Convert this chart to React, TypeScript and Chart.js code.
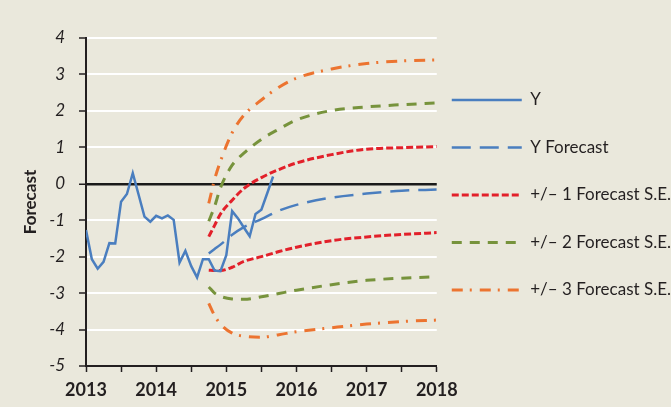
import React, { useEffect, useRef } from 'react';
import { Chart, registerables } from 'chart.js';

Chart.register(...registerables);

// ---- Data ----
const yDates = [
  '2013-01', '2013-02', '2013-03', '2013-04', '2013-05', '2013-06',
  '2013-07', '2013-08', '2013-09', '2013-10', '2013-11', '2013-12',
  '2014-01', '2014-02', '2014-03', '2014-04', '2014-05', '2014-06',
  '2014-07', '2014-08', '2014-09', '2014-10', '2014-11', '2014-12',
  '2015-01', '2015-02', '2015-03', '2015-04', '2015-05', '2015-06',
  '2015-07', '2015-08', '2015-09',
];
const yValues = [
  -1.27, -2.07, -2.33, -2.14, -1.63, -1.64,
  -0.49, -0.28, 0.29, -0.30, -0.90, -1.04,
  -0.88, -0.95, -0.87, -0.99, -2.16, -1.84,
  -2.26, -2.57, -2.07, -2.07, -2.38, -2.40,
  -1.96, -0.75, -0.95, -1.20, -1.44, -0.83,
  -0.71, -0.26, 0.20,
];

const forecastDates = [
  '2014-10', '2014-11', '2014-12', '2015-02', '2015-04', '2015-07',
  '2015-10', '2016-01', '2016-07', '2017-01', '2017-07', '2018-01',
];
const forecastValues = [-1.91, -1.79, -1.67, -1.40, -1.19, -0.97, -0.74, -0.58, -0.38, -0.27, -0.19, -0.16];
const se1Upper = [-1.45, -1.14, -0.83, -0.45, -0.13, 0.17, 0.39, 0.57, 0.80, 0.95, 0.99, 1.02];
const se1Lower = [-2.37, -2.38, -2.38, -2.29, -2.13, -2.00, -1.86, -1.74, -1.56, -1.46, -1.39, -1.34];
const se2Upper = [-1.03, -0.62, -0.11, 0.51, 0.84, 1.22, 1.50, 1.75, 2.01, 2.11, 2.17, 2.22];
const se2Lower = [-2.83, -3.00, -3.09, -3.16, -3.17, -3.10, -3.01, -2.92, -2.77, -2.65, -2.59, -2.55];
const se3Upper = [-0.54, 0.12, 0.62, 1.40, 1.88, 2.30, 2.65, 2.90, 3.15, 3.30, 3.37, 3.40];
const se3Lower = [-3.28, -3.62, -3.85, -4.10, -4.18, -4.21, -4.14, -4.06, -3.95, -3.85, -3.78, -3.74];

const seriesLabels = ['Y', 'Y Forecast', '+/\u2013 1 Forecast S.E.', '+/\u2013 2 Forecast S.E.', '+/\u2013 3 Forecast S.E.'];
const xMin = 2013;
const xMax = 2018;
const yMin = -5;
const yMax = 4;
const yAxisTitle = 'Forecast';

// ---- Styles ----
const BG = '#EAE8DC';
const BLUE = '#4A7EBF';
const RED = '#E2202A';
const GREEN = '#77933C';
const ORANGE = '#EC7430';
const TEXT = '#231F20';
const FONT = 'Lato';

const toYear = (s: string) => {
  const [y, m] = s.split('-').map(Number);
  return y + (m - 1) / 12;
};
const pts = (dates: string[], vals: number[]) => dates.map((d, i) => ({ x: toYear(d), y: vals[i] }));

export default function App() {
  const ref = useRef<HTMLCanvasElement | null>(null);

  useEffect(() => {
    if (!ref.current) return;
    const band = (label: string, data: number[], color: string, dash: number[], inLegend: boolean) => ({
      label,
      data: pts(forecastDates, data),
      borderColor: color,
      backgroundColor: color,
      borderWidth: 3,
      borderDash: dash,
      pointRadius: 0,
      cubicInterpolationMode: 'monotone',
      fill: false,
      showInLegend: inLegend,
    });
    const chart = new Chart(ref.current, {
      type: 'line',
      data: {
        datasets: [
          {
            label: seriesLabels[0],
            data: pts(yDates, yValues),
            borderColor: BLUE,
            backgroundColor: BLUE,
            borderWidth: 2.5,
            borderDash: [],
            pointRadius: 0,
            tension: 0,
            fill: false,
          },
          { ...band(seriesLabels[1], forecastValues, BLUE, [19, 9], true), borderWidth: 2.5 },
          band(seriesLabels[2], se1Upper, RED, [7, 3], true),
          band(seriesLabels[3], se2Upper, GREEN, [10, 8], true),
          band(seriesLabels[4], se3Upper, ORANGE, [11, 7, 2, 8], true),
          band(seriesLabels[2], se1Lower, RED, [7, 3], false),
          band(seriesLabels[3], se2Lower, GREEN, [10, 8], false),
          band(seriesLabels[4], se3Lower, ORANGE, [11, 7, 2, 8], false),
        ] as any,
      },
      options: {
        responsive: false,
        animation: false,
        layout: { padding: { top: 38, bottom: 11, left: 0, right: -10 } },
        plugins: {
          tooltip: { enabled: false },
          legend: {
            position: 'right',
            align: 'start',
            maxWidth: 400,
            title: {
              display: true,
              text: '',
              font: { size: 10, lineHeight: '0px' },
              padding: { top: 38.5, bottom: 0 },
            },
            labels: {
              usePointStyle: true,
              pointStyle: 'line',
              pointStyleWidth: 70,
              padding: 15,
              color: TEXT,
              font: { family: FONT, size: 17, lineHeight: '32.5px' } as any,
              generateLabels: (c: any) =>
                (Chart.defaults.plugins.legend.labels.generateLabels as any)(c).map((it: any) => {
                  const ds = c.data.datasets[it.datasetIndex];
                  return {
                    ...it,
                    text: [it.text],
                    lineDash: ds.borderDash || [],
                    strokeStyle: ds.borderColor,
                    fillStyle: ds.borderColor,
                    lineWidth: ds.borderWidth,
                    lineCap: 'butt',
                  };
                }),
              filter: (item: any, data: any) => data.datasets[item.datasetIndex].showInLegend !== false,
            },
          },
        },
        scales: {
          x: {
            type: 'linear',
            min: xMin,
            max: xMax,
            ticks: {
              stepSize: 0.5,
              autoSkip: false,
              maxRotation: 0,
              padding: 7,
              color: TEXT,
              font: { family: FONT, size: 18, weight: 'bold' },
              callback: (v: any) => (Number.isInteger(v) ? String(v) : ''),
            },
            grid: {
              drawOnChartArea: false,
              drawTicks: true,
              tickLength: 6,
              tickColor: TEXT,
              tickWidth: 1.5,
              color: TEXT,
            },
            border: { display: true, color: TEXT, width: 2 },
            afterFit: (s: any) => {
              s.height = 30;
            },
          },
          y: {
            type: 'linear',
            min: yMin,
            max: yMax,
            ticks: {
              stepSize: 1,
              padding: 14,
              color: TEXT,
              font: { family: FONT, size: 17, style: 'italic' },
            },
            grid: {
              color: (ctx: any) => (ctx.tick && ctx.tick.value === 0 ? '#1a1a1a' : '#FFFFFF'),
              lineWidth: (ctx: any) => (ctx.tick && ctx.tick.value === 0 ? 2.5 : 2),
              drawTicks: true,
              tickLength: 7,
              tickColor: TEXT,
              tickWidth: 1.5,
            },
            border: { display: true, color: TEXT, width: 2 },
            title: {
              display: true,
              text: yAxisTitle,
              color: TEXT,
              font: { family: FONT, size: 17, weight: 'bold' },
              padding: { top: 20, bottom: 0 },
            },
            afterFit: (s: any) => {
              s.width = 86;
            },
          },
        },
      } as any,
    });
    return () => chart.destroy();
  }, []);

  return (
    <div style={{ position: 'fixed', left: 0, top: 0, width: 671, height: 407, background: BG }}>
      <canvas ref={ref} width={671} height={407} style={{ display: 'block' }} />
    </div>
  );
}
